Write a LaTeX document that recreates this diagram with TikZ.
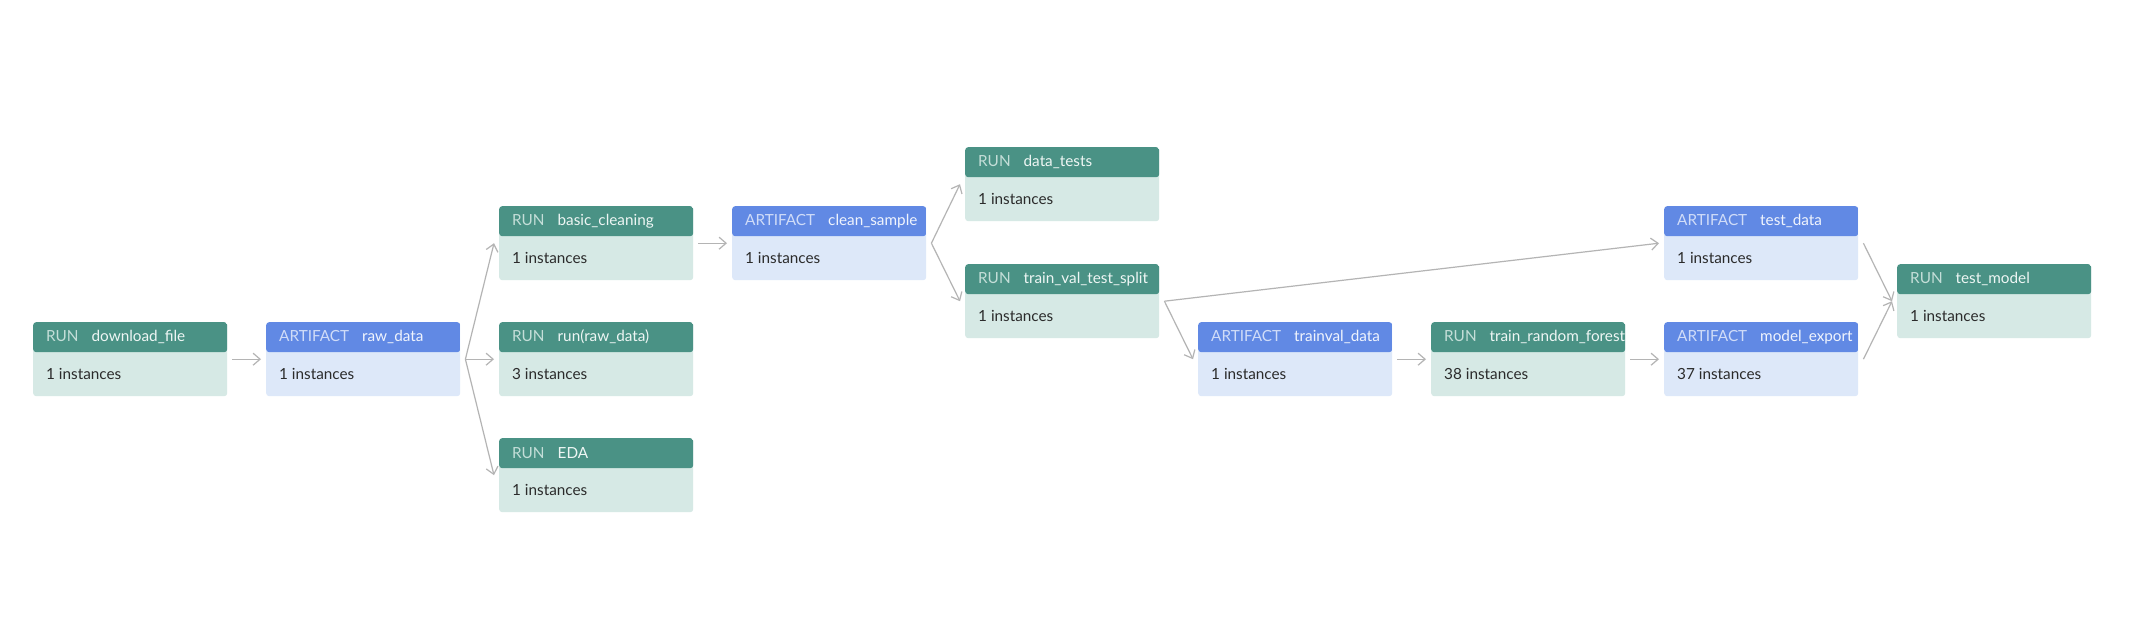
\documentclass[tikz,border=0pt]{standalone}
\usepackage{fontspec}
\setmainfont{Lato}
\usetikzlibrary{arrows.meta}
\definecolor{runhead}{HTML}{4A9285}
\definecolor{runbody}{HTML}{D6E9E5}
\definecolor{arthead}{HTML}{6189E4}
\definecolor{artbody}{HTML}{DDE8F9}
\definecolor{runlbl}{HTML}{C4DED8}
\definecolor{runname}{HTML}{EEF6F4}
\definecolor{artlbl}{HTML}{D0DCF8}
\definecolor{artname}{HTML}{F0F4FD}
\definecolor{bodytext}{HTML}{2B2B2B}
\definecolor{conncol}{HTML}{B4B4B4}
\tikzset{
  box/.style={minimum width=194pt, minimum height=74pt, rounded corners=3pt, inner sep=0pt, draw=none, anchor=north west},
  runbox/.style={box, fill=runbody, path picture={\fill[runhead] (path picture bounding box.north west) rectangle ([yshift=-30pt]path picture bounding box.north east);}},
  artbox/.style={box, fill=artbody, path picture={\fill[arthead] (path picture bounding box.north west) rectangle ([yshift=-30pt]path picture bounding box.north east);}},
  headtext/.style={anchor=west, inner sep=0pt, font=\fontsize{15.3}{17}\selectfont},
  bodytxt/.style={anchor=west, inner sep=0pt, font=\fontsize{15.3}{17}\selectfont, text=bodytext},
  conn/.style={draw=conncol, line width=1.2pt, -{Straight Barb[length=7pt,width=12pt,line width=1.2pt]}},
}
% #1 name, #2 x, #3 y, #4 type (run/art), #5 label, #6 title, #7 count
\newcommand\pnode[7]{%
  \node[#4box] (#1) at (#2,#3) {};
  \node[headtext] (#1-h) at ([xshift=13pt,yshift=-15pt]#1.north west)
    {\textcolor{#4lbl}{#5}\hspace{13pt}\textcolor{#4name}{#6}};
  \node[bodytxt] (#1-b) at ([xshift=13pt,yshift=22pt]#1.south west) {#7};
}
\begin{document}
\begin{tikzpicture}[x=1pt,y=-1pt]
\useasboundingbox[fill=white] (0,0) rectangle (2142,626);
\pnode{dl}{33}{322}{run}{RUN}{download\_file}{1 instances}
\pnode{raw}{266}{322}{art}{ARTIFACT}{raw\_data}{1 instances}
\pnode{bc}{499}{206}{run}{RUN}{basic\_cleaning}{1 instances}
\pnode{rr}{499}{322}{run}{RUN}{run(raw\_data)}{3 instances}
\pnode{eda}{499}{438}{run}{RUN}{EDA}{1 instances}
\pnode{cs}{732}{206}{art}{ARTIFACT}{clean\_sample}{1 instances}
\pnode{dt}{965}{147}{run}{RUN}{data\_tests}{1 instances}
\pnode{tvt}{965}{264}{run}{RUN}{train\_val\_test\_split}{1 instances}
\pnode{tv}{1198}{322}{art}{ARTIFACT}{trainval\_data}{1 instances}
\pnode{trf}{1431}{322}{run}{RUN}{train\_random\_forest}{38 instances}
\pnode{td}{1664}{206}{art}{ARTIFACT}{test\_data}{1 instances}
\pnode{me}{1664}{322}{art}{ARTIFACT}{model\_export}{37 instances}
\pnode{tm}{1897}{264}{run}{RUN}{test\_model}{1 instances}
\foreach \a/\b in {dl/raw, raw/bc, raw/rr, raw/eda, bc/cs, cs/dt, cs/tvt, tvt/td, tvt/tv, tv/trf, trf/me, td/tm, me/tm}
  \draw[conn] ([xshift=5pt]\a.east) -- ([xshift=-5pt]\b.west);
\end{tikzpicture}
\end{document}
